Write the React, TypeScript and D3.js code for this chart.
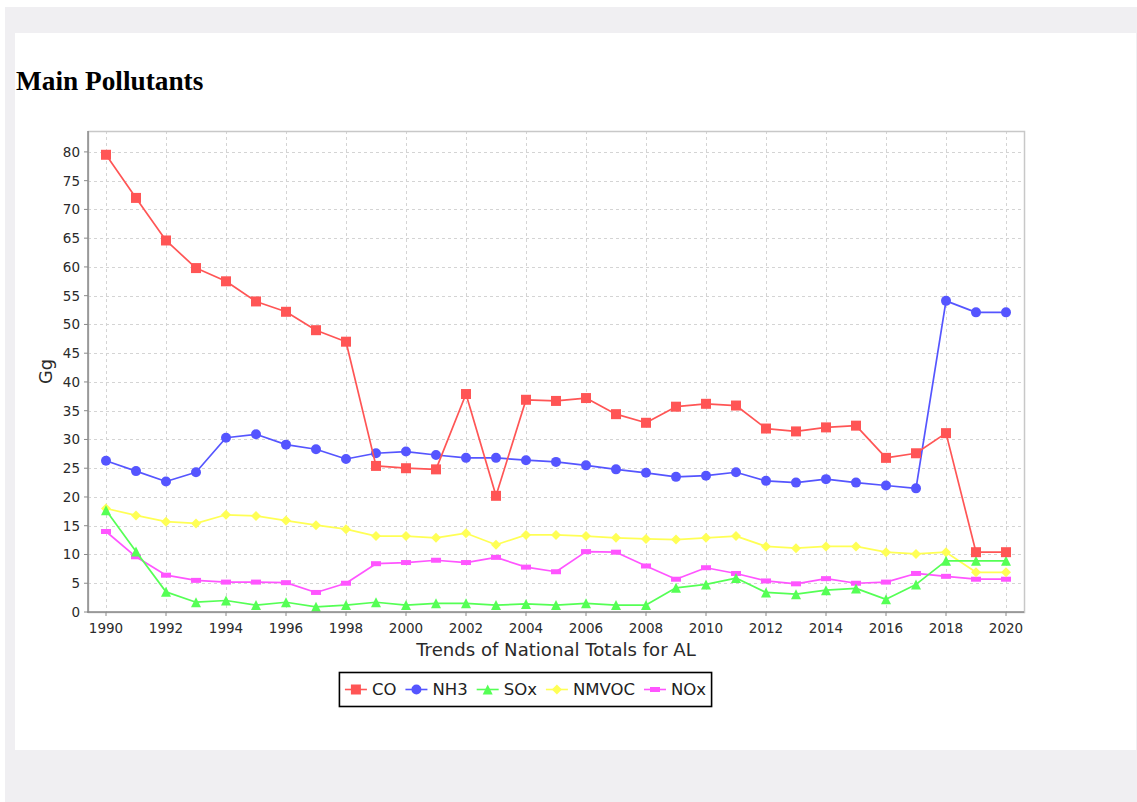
import React, { useMemo } from "react";
import * as d3 from "d3";

const YEARS = [
  1990, 1991, 1992, 1993, 1994, 1995, 1996, 1997, 1998, 1999, 2000,
  2001, 2002, 2003, 2004, 2005, 2006, 2007, 2008, 2009, 2010,
  2011, 2012, 2013, 2014, 2015, 2016, 2017, 2018, 2019, 2020,
];

const CO = [
  79.5, 72.0, 64.6, 59.8, 57.5, 54.0, 52.2, 49.0, 47.0, 25.4, 25.0,
  24.8, 37.9, 20.2, 36.9, 36.7, 37.2, 34.4, 32.9, 35.7, 36.2,
  35.9, 31.9, 31.4, 32.1, 32.4, 26.8, 27.6, 31.1, 10.4, 10.4,
];
const NH3 = [
  26.3, 24.5, 22.7, 24.3, 30.3, 30.9, 29.1, 28.3, 26.6, 27.6, 27.9,
  27.3, 26.8, 26.8, 26.4, 26.1, 25.5, 24.8, 24.2, 23.5, 23.7,
  24.3, 22.8, 22.5, 23.1, 22.5, 22.0, 21.5, 54.1, 52.1, 52.1,
];
const SOX = [
  17.7, 10.5, 3.5, 1.7, 2.0, 1.2, 1.7, 0.9, 1.2, 1.7, 1.2,
  1.5, 1.5, 1.2, 1.4, 1.2, 1.5, 1.2, 1.2, 4.2, 4.8,
  5.9, 3.4, 3.1, 3.8, 4.1, 2.2, 4.8, 8.9, 8.9, 8.9,
];
const NMVOC = [
  18.0, 16.8, 15.7, 15.4, 16.9, 16.7, 15.9, 15.1, 14.4, 13.2, 13.2,
  12.9, 13.7, 11.7, 13.4, 13.4, 13.2, 12.9, 12.7, 12.6, 12.9,
  13.2, 11.4, 11.1, 11.4, 11.4, 10.4, 10.1, 10.4, 6.9, 6.9,
];
const NOX = [
  14.0, 9.6, 6.4, 5.5, 5.2, 5.2, 5.1, 3.4, 5.0, 8.4, 8.6,
  9.0, 8.6, 9.5, 7.8, 7.0, 10.5, 10.4, 8.0, 5.7, 7.7,
  6.7, 5.4, 4.9, 5.8, 5.0, 5.2, 6.7, 6.2, 5.7, 5.7,
];

const SERIES_NAMES = ["CO", "NH3", "SOx", "NMVOC", "NOx"];
const SERIES_VALUES = [CO, NH3, SOX, NMVOC, NOX];
const SERIES_COLORS = ["#ff5555", "#5555ff", "#55ff55", "#ffff55", "#ff55ff"];
const SERIES_SHAPES = ["square", "circle", "triangle", "diamond", "rect"];

const X_TICKS = [1990, 1992, 1994, 1996, 1998, 2000, 2002, 2004, 2006, 2008, 2010, 2012, 2014, 2016, 2018, 2020];
const Y_TICKS = [0, 5, 10, 15, 20, 25, 30, 35, 40, 45, 50, 55, 60, 65, 70, 75, 80];

const TITLE = "Main Pollutants";
const X_LABEL = "Trends of National Totals for AL";
const Y_LABEL = "Gg";

const W = 1137;
const H = 802;
const PLOT = { left: 88, right: 1024, top: 131, bottom: 612 };
const SANS = "'DejaVu Sans', Verdana, sans-serif";
const S = 5; // half marker size

function shapePath(shape: string, cx: number, cy: number): string {
  switch (shape) {
    case "square":
      return `M${cx - S},${cy - S}h${2 * S}v${2 * S}h${-2 * S}Z`;
    case "circle":
      return `M${cx - S},${cy}a${S},${S} 0 1,0 ${2 * S},0a${S},${S} 0 1,0 ${-2 * S},0Z`;
    case "triangle":
      return `M${cx},${cy - S}L${cx + S},${cy + S}L${cx - S},${cy + S}Z`;
    case "diamond":
      return `M${cx},${cy - S}L${cx + S},${cy}L${cx},${cy + S}L${cx - S},${cy}Z`;
    default:
      return `M${cx - S},${cy - S / 2}h${2 * S}v${S}h${-2 * S}Z`;
  }
}

export default function App() {
  const x = d3.scaleLinear().domain([1989.4, 2020.6]).range([PLOT.left, PLOT.right]);
  const allVals = SERIES_VALUES.flat();
  const yMax = (d3.max(allVals) as number) * 1.052;
  const y = d3.scaleLinear().domain([0, yMax]).range([PLOT.bottom, PLOT.top]);

  const line = d3
    .line<number>()
    .x((_, i) => x(YEARS[i]))
    .y((d) => y(d));

  const legendFont = 16.5;
  const legend = useMemo(() => {
    const canvas = document.createElement("canvas");
    const ctx = canvas.getContext("2d")!;
    ctx.font = `${legendFont}px 'DejaVu Sans'`;
    const lineLen = 22;
    const gap = 5;
    const itemGap = 9;
    const padL = 6;
    const padR = 5;
    let cursor = padL;
    const items = SERIES_NAMES.map((name, i) => {
      const tw = ctx.measureText(name).width;
      const item = { name, i, lx: cursor, tx: cursor + lineLen + gap };
      cursor += lineLen + gap + tw + itemGap;
      return item;
    });
    const width = cursor - itemGap + padR;
    return { items, width };
  }, []);
  const legendCx = 525;
  const legendX = legendCx - legend.width / 2;
  const legendY = 672;
  const legendH = 34;

  const order = [4, 3, 2, 1, 0];

  return (
    <svg
      width={W}
      height={H}
      style={{ position: "absolute", left: 0, top: 0, display: "block" }}
    >
      <rect x={0} y={0} width={W} height={H} fill="#ffffff" />
      <rect x={5} y={7} width={W - 5} height={H - 7} fill="#f0eff2" />
      <rect x={15} y={33} width={1121} height={717} fill="#ffffff" />

      <text
        x={16}
        y={90}
        fontFamily="'Liberation Serif', 'Times New Roman', serif"
        fontWeight="bold"
        fontSize={27.3}
        fill="#000"
      >
        {TITLE}
      </text>

      {/* grid */}
      <g stroke="#d4d4d4" strokeWidth={1} strokeDasharray="3,3" shapeRendering="crispEdges">
        {X_TICKS.map((t) => (
          <line key={"gx" + t} x1={Math.round(x(t)) + 0.5} x2={Math.round(x(t)) + 0.5} y1={PLOT.top} y2={PLOT.bottom} />
        ))}
        {Y_TICKS.map((t) => (
          <line key={"gy" + t} x1={PLOT.left} x2={PLOT.right} y1={Math.round(y(t)) + 0.5} y2={Math.round(y(t)) + 0.5} />
        ))}
      </g>

      {/* plot outline */}
      <rect
        x={PLOT.left + 0.5}
        y={PLOT.top + 0.5}
        width={PLOT.right - PLOT.left}
        height={PLOT.bottom - PLOT.top}
        fill="none"
        stroke="#c8c8c8"
        strokeWidth={1.5}
      />

      {/* series */}
      {order.map((si) => {
        const vals = SERIES_VALUES[si];
        const color = SERIES_COLORS[si];
        return (
          <g key={SERIES_NAMES[si]}>
            <path d={line(vals) || ""} fill="none" stroke={color} strokeWidth={1.7} strokeLinejoin="round" />
            {vals.map((v, i) => (
              <path key={i} d={shapePath(SERIES_SHAPES[si], x(YEARS[i]), y(v))} fill={color} />
            ))}
          </g>
        );
      })}

      {/* axes */}
      <g stroke="#8a8a8a" strokeWidth={1.5}>
        <line x1={PLOT.left} x2={PLOT.left} y1={PLOT.top} y2={PLOT.bottom + 0.75} />
        <line x1={PLOT.left - 0.75} x2={PLOT.right} y1={PLOT.bottom} y2={PLOT.bottom} />
        {Y_TICKS.map((t) => (
          <line key={"ty" + t} x1={PLOT.left - 4} x2={PLOT.left} y1={y(t)} y2={y(t)} strokeWidth={1} />
        ))}
        {X_TICKS.map((t) => (
          <line key={"tx" + t} x1={x(t)} x2={x(t)} y1={PLOT.bottom} y2={PLOT.bottom + 4} strokeWidth={1} />
        ))}
      </g>
      <g fontFamily={SANS} fontSize={13.5} fill="#2a2a2a">
        {Y_TICKS.map((t) => (
          <text key={"ly" + t} x={PLOT.left - 8} y={y(t)} dy="0.36em" textAnchor="end">
            {t}
          </text>
        ))}
        {X_TICKS.map((t) => (
          <text key={"lx" + t} x={x(t)} y={633} textAnchor="middle">
            {t}
          </text>
        ))}
      </g>

      <text
        x={(PLOT.left + PLOT.right) / 2}
        y={656}
        textAnchor="middle"
        fontFamily={SANS}
        fontSize={18.1}
        fill="#2a2a2a"
      >
        {X_LABEL}
      </text>
      <text
        transform={`translate(52,${(PLOT.top + PLOT.bottom) / 2}) rotate(-90)`}
        textAnchor="middle"
        fontFamily={SANS}
        fontSize={17.8}
        fill="#2a2a2a"
      >
        {Y_LABEL}
      </text>

      {/* legend */}
      <g transform={`translate(${legendX},${legendY})`}>
        <rect x={0.5} y={0.5} width={legend.width} height={legendH} fill="#fff" stroke="#000" strokeWidth={1.6} />
        {legend.items.map((it) => (
          <g key={it.name}>
            <line
              x1={it.lx}
              x2={it.lx + 22}
              y1={legendH / 2 + 0.5}
              y2={legendH / 2 + 0.5}
              stroke={SERIES_COLORS[it.i]}
              strokeWidth={1.6}
            />
            <path d={shapePath(SERIES_SHAPES[it.i], it.lx + 11, legendH / 2 + 0.5)} fill={SERIES_COLORS[it.i]} />
            <text x={it.tx} y={legendH / 2 + 0.5} dy="0.36em" fontFamily={SANS} fontSize={legendFont} fill="#222">
              {it.name}
            </text>
          </g>
        ))}
      </g>
    </svg>
  );
}
